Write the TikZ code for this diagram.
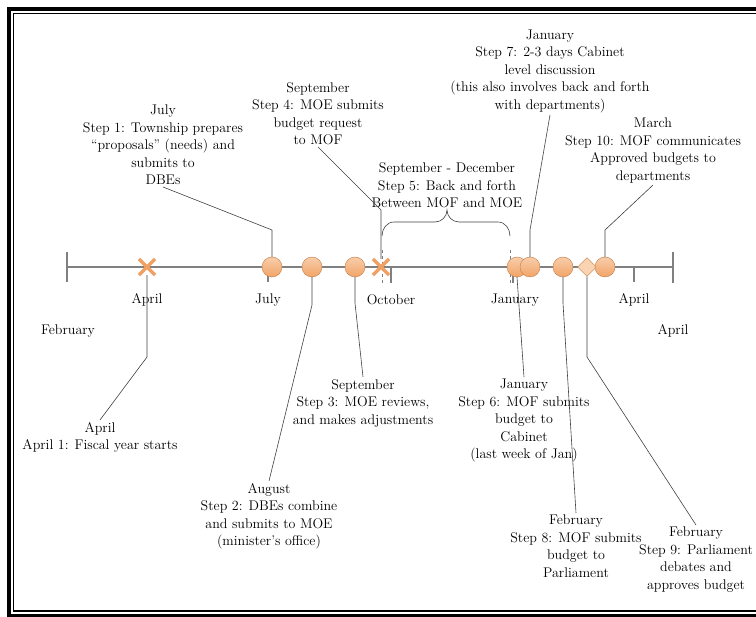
\documentclass[tikz,border=0pt]{standalone}
\usepackage{tikz}
\usetikzlibrary{positioning}
\usetikzlibrary{shapes.geometric, shapes.misc}
\usepackage{xcolor}

\definecolor{dotfill}{HTML}{F2A466}
\definecolor{dotedge}{HTML}{C27C45}
\definecolor{crossclr}{HTML}{F0A062}
\definecolor{paleorange}{HTML}{FAD3B2}
\definecolor{axisgray}{HTML}{808080}

\begin{document}
\begin{tikzpicture}[x=1pt, y=-1pt,
    every node/.style={font=\fontsize{14}{17.5}\selectfont},
    stepdot/.style={circle, draw=dotedge, top color=dotfill!55!white, bottom color=dotfill,
        minimum size=20pt, inner sep=0pt},
    xmark/.style={cross out, draw=crossclr, line width=3.2pt, minimum size=13pt, inner sep=0pt},
    dmark/.style={diamond, draw=dotedge, fill=paleorange, minimum size=19pt, inner sep=0pt},
    steplabel/.style={align=center, inner sep=2pt},
    leader/.style={draw=black!75, line width=0.6pt},
    axisline/.style={draw=axisgray, line width=1.1pt},
    guide/.style={draw=axisgray, dashed, line width=0.6pt}]
    \useasboundingbox (0,0) rectangle (756,617);

    % Page frame (thick outer rule, thin inner rule)
    \draw[line width=3.5pt] (757,9) -- (9,9) -- (9,615.5) -- (757,615.5);
    \draw[line width=1.3pt] (757,13.2) -- (13.3,13.2) -- (13.3,611) -- (757,611);

    % Time axis with end bars and month ticks
    \coordinate (start) at (67,267);
    \coordinate (end) at (673,267);
    \draw[axisline] (start) -- (end);
    \draw[axisline] (67,252) -- (67,282);
    \draw[axisline] (673,252) -- (673,283);
    \draw[axisline] (268,267) -- (268,282);
    \draw[axisline] (391,267) -- (391,283);
    \draw[axisline] (513,267) -- (513,283);
    \draw[axisline] (634,267) -- (634,282);

    % Month names
    \node (mApr) at (147,300) {April};
    \node (mJul) at (268,300) {July};
    \node (mOct) at (391,300) {October};
    \node (mJan) at (515,300) {January};
    \node (mAprB) at (634,300) {April};
    \node (mFeb) at (68,331) {February};
    \node (mAprC) at (673,331) {April};

    % Sept - Dec span
    \coordinate (bl) at (382,236);
    \coordinate (br) at (510,236);
    \coordinate (tip) at (447,210);
    \draw[guide] (382,250) -- (382,283);
    \draw[guide] (510,250) -- (510,283);
    \draw[leader] (bl) to[out=90, in=180] (394,222) -- (435,222)
        to[out=0, in=-90] (tip) to[out=-90, in=180] (459,222) -- (498,222)
        to[out=0, in=90] (br);

    % Markers on the axis
    \node[xmark] (apr) at (147,267) {};
    \node[stepdot] (s1) at (272,267) {};
    \node[stepdot] (s2) at (312,267) {};
    \node[stepdot] (s3) at (355,267) {};
    \node[xmark] (s4) at (381,267) {};
    \node[stepdot] (s6) at (517,267) {};
    \node[stepdot] (s7) at (530,267) {};
    \node[stepdot] (s8) at (563,267) {};
    \node[dmark] (s9) at (587,267) {};
    \node[stepdot] (s10) at (605,267) {};

    % Labels above the axis
    \node[steplabel, anchor=south] (t1) at (163,187) {July\\Step 1: Township prepares\\``proposals'' (needs) and\\submits to\\DBEs};
    \node[steplabel, anchor=south] (t4) at (318,147) {September\\Step 4: MOE submits\\budget request\\to MOF};
    \node[steplabel, anchor=south] (t5) at (tip) {September - December\\Step 5: Back and forth\\Between MOF and MOE};
    \node[steplabel, anchor=south] (t7) at (550,115) {January\\Step 7: 2-3 days Cabinet\\level discussion\\(this also involves back and forth\\with departments)};
    \node[steplabel, anchor=south] (t10) at (653,185) {March\\Step 10: MOF communicates\\Approved budgets to\\departments};

    % Labels below the axis
    \node[steplabel, anchor=north] (t0) at (100,420) {April\\April 1: Fiscal year starts};
    \node[steplabel, anchor=north] (t3) at (363,377) {September\\Step 3: MOE reviews,\\and makes adjustments};
    \node[steplabel, anchor=north] (t6) at (524,377) {January\\Step 6: MOF submits\\budget to\\Cabinet\\(last week of Jan)};
    \node[steplabel, anchor=north] (t2) at (269,481) {August\\Step 2: DBEs combine\\and submits to MOE\\(minister's office)};
    \node[steplabel, anchor=north] (t8) at (576,513) {February\\Step 8: MOF submits\\budget to\\Parliament};
    \node[steplabel, anchor=north] (t9) at (696,525) {February\\Step 9: Parliament\\debates and\\approves budget};

    % Leader lines from markers to labels
    \draw[leader] (apr.south) -- (147,357) -- (t0.north);
    \draw[leader] (s1.north) -- (272,230) -- (t1.south);
    \draw[leader] (s2.south) -- (312,305) -- (t2.north);
    \draw[leader] (s3.south) -- (355,303) -- (t3.north);
    \draw[leader] (s4.north) -- (381,210) -- (t4.south);
    \draw[leader] (s6.south) -- (t6.north);
    \draw[leader] (s7.north) -- (530,230) -- (t7.south);
    \draw[leader] (s8.south) -- (563,303) -- (t8.north);
    \draw[leader] (s9.south) -- (587,357) -- (t9.north);
    \draw[leader] (s10.north) -- (605,230) -- (t10.south);
\end{tikzpicture}
\end{document}
